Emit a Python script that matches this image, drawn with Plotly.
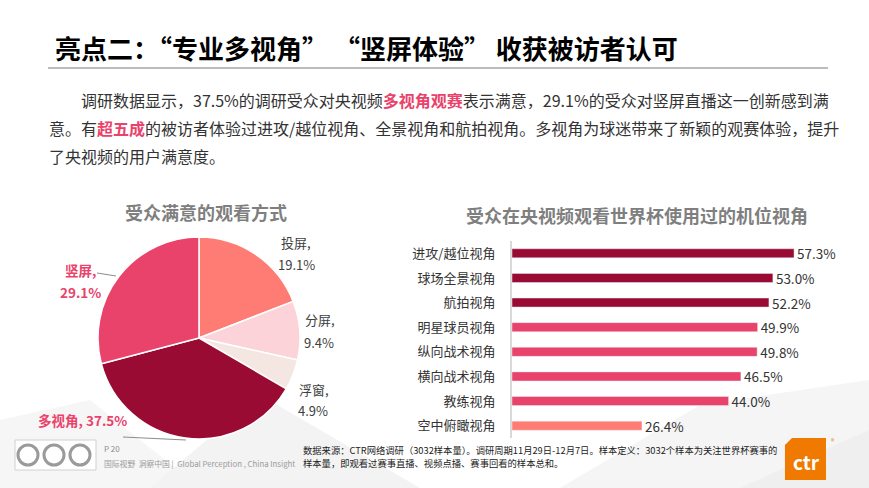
import plotly.graph_objects as go

W, H = 869, 488
FONT = "Noto Sans CJK SC"

# 饼图：受众满意的观看方式（顺时针，从 12 点开始）
pie_labels = ["投屏", "分屏", "浮窗", "多视角", "竖屏"]
pie_values = [19.1, 9.4, 4.9, 37.5, 29.1]
pie_colors = ["#FF7C75", "#FBD3D9", "#F4E7E2", "#990B32", "#E9426B"]

# 条形图：受众在央视频观看世界杯使用过的机位视角
bar_labels = ["进攻/越位视角", "球场全景视角", "航拍视角", "明星球员视角",
              "纵向战术视角", "横向战术视角", "教练视角", "空中俯瞰视角"]
bar_values = [57.3, 53.0, 52.2, 49.9, 49.8, 46.5, 44.0, 26.4]
bar_colors = ["#990B32"] * 3 + ["#E9426B"] * 4 + ["#FF7C75"]


def px(x, y):
    # 像素坐标 -> paper 坐标
    return x / W, 1 - y / H


fig = go.Figure()

fig.add_trace(go.Pie(
    labels=pie_labels, values=pie_values, sort=False, direction="clockwise",
    rotation=0, textinfo="none", hoverinfo="label+percent",
    marker=dict(colors=pie_colors, line=dict(color="white", width=1.5)),
    domain=dict(x=[98 / W, 300 / W], y=[1 - 439 / H, 1 - 237 / H]),
    showlegend=False,
))

fig.add_trace(go.Bar(
    y=bar_labels, x=bar_values, orientation="h",
    marker=dict(color=bar_colors),
    texttemplate="%{x:.1f}%", textposition="outside", constraintext="none",
    textfont=dict(size=13.5, color="#333333", family=FONT),
    cliponaxis=False, showlegend=False,
))

fig.update_layout(
    width=W, height=H, margin=dict(l=0, r=0, t=0, b=0),
    paper_bgcolor="white", plot_bgcolor="rgba(0,0,0,0)",
    font=dict(family=FONT, color="#333333"),
    bargap=0.63,
    xaxis=dict(domain=[512 / W, 0.95], range=[0, 63.7], visible=False, fixedrange=True),
    yaxis=dict(domain=[1 - 438 / H, 1 - 241 / H], autorange="reversed",
               showline=True, linecolor="#D9D9D9", linewidth=2, ticks="",
               showgrid=False, ticklabelstandoff=12,
               tickfont=dict(size=13, color="#333333", family=FONT)),
)

ann = []


def text(x, y, s, size, color="#333333", xanchor="left", bold=False, **kw):
    ax, ay = px(x, y)
    if bold:
        s = "<b>" + s + "</b>"
    ann.append(dict(x=ax, y=ay, xref="paper", yref="paper", text=s, showarrow=False,
                    xanchor=xanchor, yanchor="middle",
                    font=dict(size=size, color=color, family=FONT), **kw))


# 标题
text(53, 47, "亮点二：“专业多视角” “竖屏体验” 收获被访者认可", 26, "#000000", bold=True)

# 段落
pink = "#E9426B"


def hl(s):
    return "<b><span style='color:" + pink + "'>" + s + "</span></b>"


text(79, 100, "调研数据显示，37.5%的调研受众对央视频" + hl("多视角观赛")
     + "表示满意，29.1%的受众对竖屏直播这一创新感到满", 16)
text(47, 128, "意。有" + hl("超五成") + "的被访者体验过进攻/越位视角、全景视角和航拍视角。"
     "多视角为球迷带来了新颖的观赛体验，提升", 16)
text(47, 156, "了央视频的用户满意度。", 16)

# 图表标题
text(206, 212, "受众满意的观看方式", 18, "#7F7F7F", xanchor="center", bold=True)
text(637, 215, "受众在央视频观看世界杯使用过的机位视角", 18, "#7F7F7F", xanchor="center", bold=True)

# 饼图标签
text(279, 242, "投屏,", 13, "#404040")
text(276, 264, "19.1%", 13, "#404040")
text(303, 319, "分屏,", 13, "#404040")
text(302, 342, "9.4%", 13, "#404040")
text(297, 389, "浮窗,", 13, "#404040")
text(296, 410, "4.9%", 13, "#404040")
text(80, 270, "竖屏,", 13.5, pink, xanchor="center", bold=True)
text(80, 292, "29.1%", 13.5, pink, xanchor="center", bold=True)
text(82, 420, "多视角, 37.5%", 13.5, pink, xanchor="center", bold=True)

# 页脚
text(102, 448, "P 20", 8, "#8C8C8C")
text(102, 463, "国际视野  洞察中国 |  Global Perception , China Insight", 7.8, "#9A9A9A")
text(301, 450, "数据来源：CTR网络调研（3032样本量）。调研周期11月29日-12月7日。样本定义：3032个样本为关注世界杯赛事的",
     9.3, "#222222")
text(301, 463, "样本量，即观看过赛事直播、视频点播、赛事回看的样本总和。", 9.3, "#222222")

# ctr 标志
text(806, 461, "ctr", 19, "white", xanchor="center", bold=True)
text(833, 441, "®", 7, "#F07A00", xanchor="center")

fig.update_layout(annotations=ann)

shapes = []


def line(x0, y0, x1, y1, color, width):
    a0, b0 = px(x0, y0)
    a1, b1 = px(x1, y1)
    shapes.append(dict(type="line", xref="paper", yref="paper", x0=a0, y0=b0, x1=a1, y1=b1,
                       line=dict(color=color, width=width)))


def poly(points, fill, layer="below"):
    path = "M " + " L ".join("%.4f,%.4f" % px(x, y) for x, y in points) + " Z"
    shapes.append(dict(type="path", xref="paper", yref="paper", path=path, fillcolor=fill,
                       line=dict(width=0), layer=layer))


# 背景浅灰三角
poly([(0, 488), (0, 420), (90, 400), (200, 488)], "#F6F6F6")
poly([(150, 488), (260, 395), (420, 488)], "#F3F3F3")
poly([(560, 488), (700, 405), (869, 380), (869, 488)], "#F5F5F5")
poly([(740, 488), (869, 430), (869, 488)], "#EFEFEF")

# 标题下划线
line(48, 68, 828, 68, "#A6A6A6", 1.5)

# 饼图引导线
line(97, 273, 116, 276, "#8C8C8C", 1)
line(123, 437, 186, 440, "#8C8C8C", 1)

# 左下角徽章
shapes.append(dict(type="rect", xref="paper", yref="paper",
                   x0=px(15, 0)[0], x1=px(96, 0)[0], y0=px(0, 470)[1], y1=px(0, 440)[1],
                   line=dict(color="#D0D0D0", width=1), fillcolor="white"))
for cx in [28, 54, 80]:
    shapes.append(dict(type="circle", xref="paper", yref="paper",
                       x0=px(cx - 10, 0)[0], x1=px(cx + 10, 0)[0],
                       y0=px(0, 465)[1], y1=px(0, 445)[1],
                       line=dict(color="#9A9A9A", width=3)))

# ctr 橙色方块
poly([(792, 438), (826, 438), (826, 480), (785, 480), (785, 445)], "#F07A00", layer="above")

fig.update_layout(shapes=shapes)

fig.write_html("out.html", config={"displayModeBar": False},
               post_script="document.body.style.margin='0';")
